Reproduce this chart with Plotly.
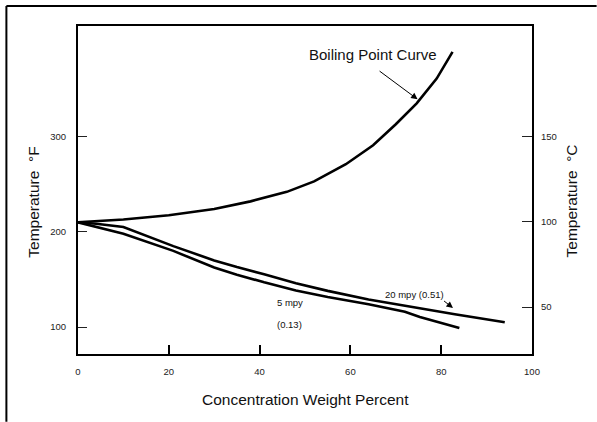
import plotly.graph_objects as go

# ---- data ----
boil_x = [0, 10, 20, 30, 38, 46, 52, 59, 65, 70, 74.6, 79, 82.5]
boil_f = [210, 213, 217.5, 224, 232, 242, 253, 271, 291, 313, 335, 361, 389]

mpy20_x = [0, 4, 10, 21, 30, 35, 41, 48, 55, 64, 83, 94]
mpy20_f = [210, 208.5, 205, 185, 170, 163, 155.5, 146, 138, 129, 113.5, 105]

mpy5_x = [0, 4, 10, 21, 30, 35, 41, 48, 55, 64, 72, 75.3, 84]
mpy5_f = [210, 205.5, 198, 180, 162.5, 155, 147, 138.5, 131.5, 124, 116, 110.5, 99]

x_ticks = [0, 20, 40, 60, 80, 100]
f_ticks = [100, 200, 300]
c_ticks = [50, 100, 150]

FONT = "Arial, Liberation Sans, sans-serif"

fig = go.Figure()
line_style = dict(color="black", width=2.6)
fig.add_trace(go.Scatter(x=boil_x, y=boil_f, mode="lines", line=line_style,
                         name="Boiling Point Curve", showlegend=False))
fig.add_trace(go.Scatter(x=mpy20_x, y=mpy20_f, mode="lines", line=line_style,
                         name="20 mpy (0.51)", showlegend=False))
fig.add_trace(go.Scatter(x=mpy5_x, y=mpy5_f, mode="lines", line=line_style,
                         name="5 mpy (0.13)", showlegend=False))
# empty trace so the Celsius axis is drawn
fig.add_trace(go.Scatter(x=[], y=[], yaxis="y2", showlegend=False))

L, R, T, B = 77.7, 532.3, 26.0, 354.3
W, H = 597, 422
pw, ph = R - L, B - T

def px(xp):
    return (xp - L) / pw

def py(yp):
    return (B - yp) / ph

tickfont = dict(family=FONT, size=9.5, color="#222")

fig.update_layout(
    width=W, height=H,
    margin=dict(l=L, r=W - R, t=T, b=H - B, pad=0),
    paper_bgcolor="white", plot_bgcolor="white",
    showlegend=False,
    xaxis=dict(range=[0, 100], tickvals=x_ticks, ticks="inside", ticklen=9,
               tickwidth=1.8, tickcolor="black", showline=True, linewidth=2.2,
               linecolor="black", mirror=True, showgrid=False, zeroline=False,
               tickfont=tickfont, ticklabelstandoff=7, fixedrange=True),
    yaxis=dict(range=[71.7, 416.2], tickvals=f_ticks, ticks="inside", ticklen=9,
               tickwidth=1.2, tickcolor="#222", showline=True, linewidth=2.2,
               linecolor="black", showgrid=False, zeroline=False,
               tickfont=tickfont, ticklabelstandoff=8),
    yaxis2=dict(range=[22.5, 214.9], tickvals=c_ticks, ticks="inside", ticklen=10,
                tickwidth=1.2, tickcolor="#222", showline=True, linewidth=2.2,
                linecolor="black", showgrid=False, zeroline=False,
                overlaying="y", side="right", tickfont=tickfont,
                ticklabelstandoff=5),
)

# outer frame: only its left and top edges fall inside the window
frame = dict(color="black", width=2)
fig.add_shape(type="line", xref="paper", yref="paper",
              x0=px(6), x1=px(597), y0=py(6), y1=py(6), line=frame)
fig.add_shape(type="line", xref="paper", yref="paper",
              x0=px(6), x1=px(6), y0=py(6), y1=py(H), line=frame)

title_font = dict(family=FONT, size=15.5, color="#111")
fig.add_annotation(text="Temperature  °F", xref="paper", yref="paper",
                   x=px(33.5), y=py(202), textangle=-90, showarrow=False,
                   xanchor="center", yanchor="middle", font=title_font)
fig.add_annotation(text="Temperature  °C", xref="paper", yref="paper",
                   x=px(572), y=py(201), textangle=-90, showarrow=False,
                   xanchor="center", yanchor="middle", font=title_font)
fig.add_annotation(text="Concentration Weight Percent", xref="paper", yref="paper",
                   x=px(306), y=py(400), showarrow=False,
                   xanchor="center", yanchor="middle", font=title_font)

# curve labels
fig.add_annotation(text="Boiling Point Curve", x=65.0, y=386.5, showarrow=False,
                   xanchor="center", yanchor="middle",
                   font=dict(family=FONT, size=15, color="#111"))
fig.add_annotation(text="", x=74.8, y=339.2, ax=66.1, ay=370, axref="x", ayref="y",
                   showarrow=True, arrowhead=2, arrowsize=1.3, arrowwidth=1,
                   arrowcolor="black")

small_font = dict(family=FONT, size=9.5, color="#111")
fig.add_annotation(text="20 mpy (0.51)", x=74.2, y=133.9, showarrow=False,
                   xanchor="center", yanchor="middle", font=small_font)
fig.add_annotation(text="", x=82.6, y=120, ax=80.3, ay=128.6, axref="x", ayref="y",
                   showarrow=True, arrowhead=2, arrowsize=1.3, arrowwidth=1,
                   arrowcolor="black")
fig.add_annotation(text="5 mpy", x=43.4, y=125.8, showarrow=False,
                   xanchor="left", yanchor="middle", font=small_font)
fig.add_annotation(text="(0.13)", x=43.4, y=103.1, showarrow=False,
                   xanchor="left", yanchor="middle", font=small_font)

fig.write_html("out.html")
